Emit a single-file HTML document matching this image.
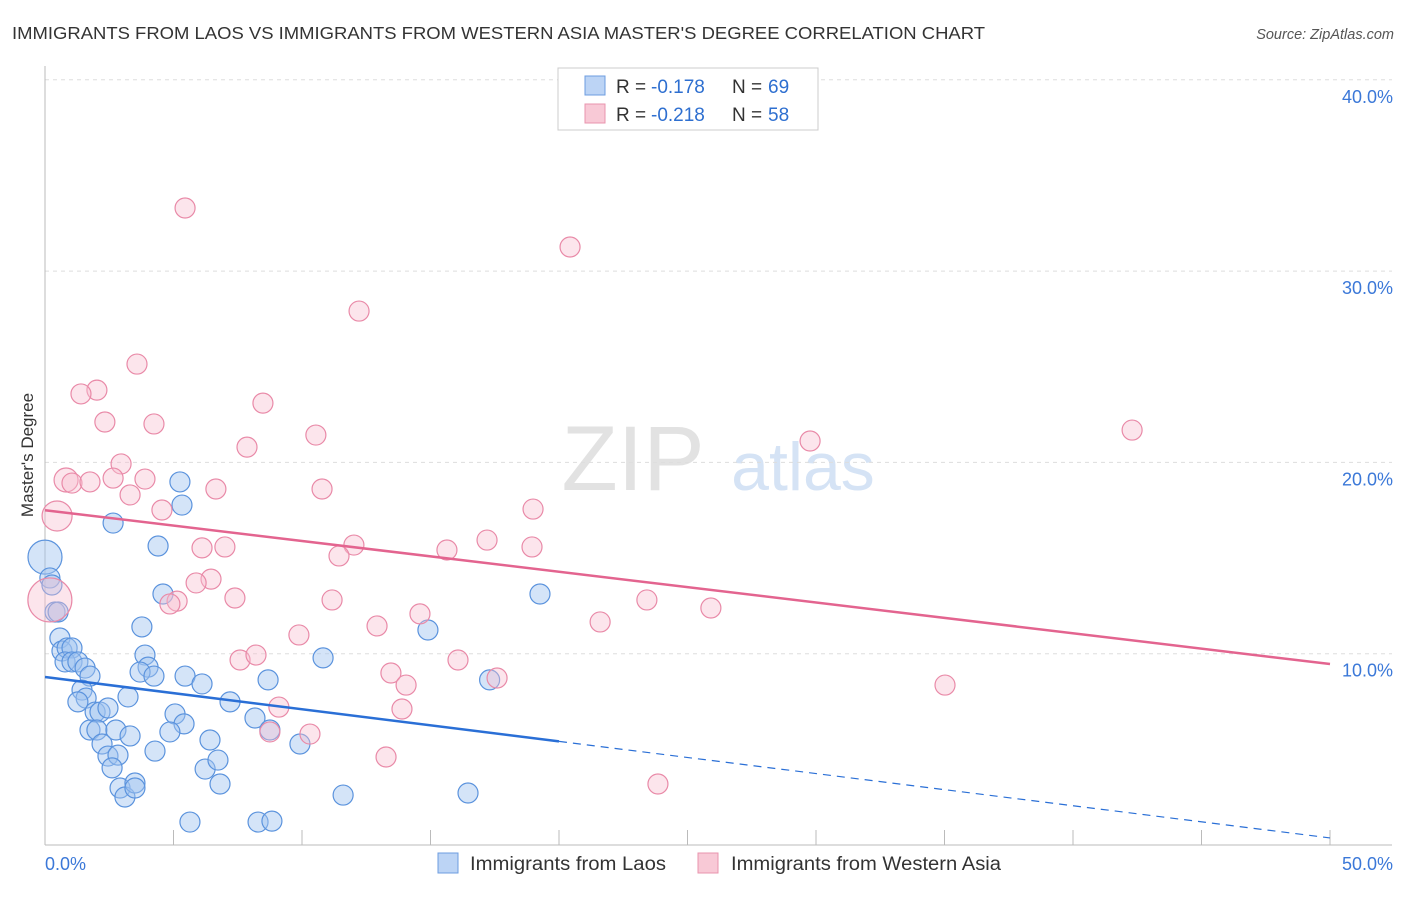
<!DOCTYPE html>
<html><head><meta charset="utf-8"><style>
body{margin:0;background:#fff;font-family:"Liberation Sans",sans-serif;}
svg text{font-family:"Liberation Sans",sans-serif;}
</style></head><body>
<svg id="c" width="1406" height="892">
<text x="12" y="39" font-size="17.5" fill="#333" textLength="973" lengthAdjust="spacingAndGlyphs">IMMIGRANTS FROM LAOS VS IMMIGRANTS FROM WESTERN ASIA MASTER'S DEGREE CORRELATION CHART</text>
<text x="1394" y="39" font-size="14.5" fill="#555" font-style="italic" text-anchor="end">Source: ZipAtlas.com</text>
<text x="33" y="455" font-size="17" fill="#333" text-anchor="middle" transform="rotate(-90 33 455)">Master's Degree</text>
<g><text x="633" y="490" font-size="92" fill="#e2e2e2" font-family="Liberation Serif" text-anchor="middle">ZIP</text><text x="803" y="490" font-size="68" fill="#d5e3f5" text-anchor="middle">atlas</text></g>
<g id="grid"></g><g id="pts"></g><g id="trend"></g>
<g>
<rect x="558" y="68" width="260" height="62" fill="#fff" stroke="#ccc"/>
<rect x="585" y="76" width="20" height="19" fill="#bcd4f5" stroke="#6d9de0"/>
<rect x="585" y="104" width="20" height="19" fill="#f8c9d6" stroke="#e994ae"/>
<text y="93" font-size="19" fill="#333"><tspan x="616">R = </tspan><tspan x="651" fill="#2e6fd0">-0.178</tspan><tspan x="732">N = </tspan><tspan x="768" fill="#2e6fd0">69</tspan></text>
<text y="121" font-size="19" fill="#333"><tspan x="616">R = </tspan><tspan x="651" fill="#2e6fd0">-0.218</tspan><tspan x="732">N = </tspan><tspan x="768" fill="#2e6fd0">58</tspan></text>
</g>
<g>
<rect x="438" y="853" width="20" height="20" fill="#bcd4f5" stroke="#6d9de0"/>
<text x="470" y="870" font-size="19" fill="#333" textLength="196" lengthAdjust="spacingAndGlyphs">Immigrants from Laos</text>
<rect x="698" y="853" width="20" height="20" fill="#f8c9d6" stroke="#e994ae"/>
<text x="731" y="870" font-size="19" fill="#333" textLength="270" lengthAdjust="spacingAndGlyphs">Immigrants from Western Asia</text>
</g>
</svg>
<script>
const xTicks=[0,5,10,15,20,25,30,35,40,45,50];
const yTicks=[10,20,30,40];
const blueX=[0,0.19,0.27,0.39,0.51,0.58,0.66,0.86,1.05,0.78,1.05,1.28,1.56,1.75,1.44,1.6,1.28,1.95,2.14,2.45,1.75,2.02,2.76,2.22,2.45,2.84,2.61,3.31,2.92,3.11,3.5,3.5,2.65,4.4,5.25,5.33,4.59,3.77,3.89,4.01,3.7,4.24,3.23,5.45,6.11,5.06,5.41,4.86,4.28,6.42,6.23,6.73,6.81,5.64,7.2,8.17,8.68,8.75,8.29,8.83,9.92,10.82,11.6,14.9,17.3,16.46,19.26];
const blueY=[15.05,13.96,13.59,12.18,12.18,10.82,10.14,10.3,10.3,9.57,9.57,9.57,9.25,8.83,8.1,7.68,7.48,6.95,6.95,7.16,6.01,6.01,6.01,5.28,4.65,4.7,4.03,5.7,2.98,2.51,3.24,2.98,16.83,15.63,18.98,17.77,13.12,11.4,9.93,9.3,9.04,8.83,7.74,8.83,8.42,6.85,6.33,5.91,4.91,5.49,3.97,4.44,3.19,1.2,7.48,6.64,8.63,6.01,1.2,1.25,5.28,9.78,2.61,11.24,8.63,2.72,13.12];
const blueR=[17,10,10,10,10,10,10,10,10,10,10,10,10,10,10,10,10,10,10,10,10,10,10,10,10,10,10,10,10,10,10,10,10,10,10,10,10,10,10,10,10,10,10,10,10,10,10,10,10,10,10,10,10,10,10,10,10,10,10,10,10,10,10,10,10,10,10];
const pinkX=[5.45,20.43,12.22,3.58,2.02,1.4,8.48,2.33,4.24,10.54,7.86,29.77,42.3,2.96,0.82,1.05,1.75,2.65,3.89,6.65,10.78,3.31,4.55,18.99,0.47,17.2,6.11,7.0,12.02,15.64,18.95,11.44,6.46,5.88,5.14,4.86,7.39,0.19,11.17,23.42,14.59,12.92,21.6,25.91,9.88,7.59,8.21,16.07,13.46,14.05,17.59,13.89,9.1,10.31,8.75,13.27,23.85,35.02];
const pinkY=[33.3,31.26,27.91,25.14,23.78,23.58,23.1,22.11,22.01,21.43,20.8,21.12,21.69,19.92,19.08,18.92,18.98,19.18,19.13,18.61,18.61,18.3,17.51,17.56,17.2,15.94,15.53,15.58,15.68,15.42,15.58,15.11,13.9,13.7,12.75,12.6,12.91,12.81,12.81,12.81,12.08,11.45,11.66,12.39,10.98,9.67,9.93,9.67,8.99,8.36,8.73,7.11,7.21,5.8,5.91,4.6,3.19,8.36];
const pinkR=[10,10,10,10,10,10,10,10,10,10,10,10,10,10,12,10,10,10,10,10,10,10,10,10,15,10,10,10,10,10,10,10,10,10,10,10,10,22,10,10,10,10,10,10,10,10,10,10,10,10,10,10,10,10,10,10,10,10];
const blueTrend=[8.78,0.37], pinkTrend=[17.5,9.46], blueSolidEnd=20;
const X=v=>45+v*25.7, Y=v=>845-v*19.13;
const NS='http://www.w3.org/2000/svg';
function mk(tag,attrs,parent){const e=document.createElementNS(NS,tag);for(const k in attrs)e.setAttribute(k,attrs[k]);document.getElementById(parent).appendChild(e);return e;}
yTicks.forEach(t=>{
 const l=mk('line',{x1:45,x2:1392,y1:Y(t),y2:Y(t),stroke:'#ddd','stroke-dasharray':'4 4'},'grid');
 
 
 const tx=mk('text',{x:1393,y:Y(t)+23,'font-size':18,fill:'#3b78d8','text-anchor':'end'},'grid');tx.textContent=t.toFixed(1)+'%';
 
 
});
const ax=mk('line',{x1:45,x2:45,y1:66,y2:845,stroke:'#bbb'},'grid');


const bx=mk('line',{x1:45,x2:1392,y1:845,y2:845,stroke:'#bbb'},'grid');


xTicks.forEach(t=>{const l=mk('line',{x1:X(t),x2:X(t),y1:830,y2:845,stroke:'#bbb'},'grid');
 
 });
[[0,'start',45],[50,'end',1393]].forEach(([t,a,x])=>{const tx=mk('text',{x:x,y:870,'font-size':18,fill:'#3b78d8','text-anchor':a},'grid');tx.textContent=t.toFixed(1)+'%';
 
 });
blueX.forEach((v,i)=>{const c=mk('circle',{cx:X(v),cy:Y(blueY[i]),r:blueR[i],fill:'rgba(160,195,240,0.45)',stroke:'#5b93dd','stroke-width':1.2},'pts');
 
 });
pinkX.forEach((v,i)=>{const c=mk('circle',{cx:X(v),cy:Y(pinkY[i]),r:pinkR[i],fill:'rgba(248,190,208,0.4)',stroke:'#e98aa8','stroke-width':1.2},'pts');
 
 });
const by=x=>blueTrend[0]+(blueTrend[1]-blueTrend[0])*x/50;
const py=x=>pinkTrend[0]+(pinkTrend[1]-pinkTrend[0])*x/50;
let t1=mk('line',{x1:X(0),y1:Y(by(0)),x2:X(blueSolidEnd),y2:Y(by(blueSolidEnd)),stroke:'#2a6fd6','stroke-width':2.5},'trend');


let t2=mk('line',{x1:X(blueSolidEnd),y1:Y(by(blueSolidEnd)),x2:X(50),y2:Y(by(50)),stroke:'#2a6fd6','stroke-width':1.2,'stroke-dasharray':'8 6'},'trend');


let t3=mk('line',{x1:X(0),y1:Y(py(0)),x2:X(50),y2:Y(py(50)),stroke:'#e3648f','stroke-width':2.5},'trend');


</script>
</body></html>
